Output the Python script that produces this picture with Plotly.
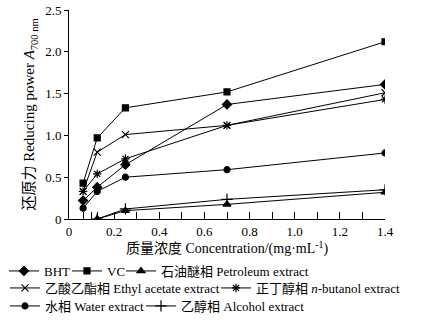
import plotly.graph_objects as go

conc = [0.0625, 0.125, 0.25, 0.7, 1.4]
bht = [0.22, 0.38, 0.65, 1.37, 1.61]
vc = [0.43, 0.97, 1.33, 1.52, 2.12]
petroleum = [None, 0.0, 0.10, 0.175, 0.32]
ethyl = [0.33, 0.80, 1.01, 1.12, 1.51]
butanol = [0.33, 0.54, 0.72, 1.12, 1.43]
water = [0.13, 0.33, 0.50, 0.59, 0.79]
alcohol = [None, 0.0, 0.12, 0.235, 0.35]

x_ticks = [0, 0.2, 0.4, 0.6, 0.8, 1.0, 1.2, 1.4]
x_ticktext = ["0", "0.2", "0.4", "0.6", "0.8", "1.0", "1.2", "1.4"]
y_ticks = [0, 0.5, 1.0, 1.5, 2.0, 2.5]
y_ticktext = ["0", "0.5", "1.0", "1.5", "2.0", "2.5"]

FONT = "'Liberation Serif', 'Times New Roman', 'Noto Sans CJK SC', serif"

# (name, values, symbol, size, legend id, legend left px, legend row centre px)
series = [
    ("BHT", bht, "diamond", 7, "legend", 4, 271),
    ("VC", vc, "square", 6, "legend2", 67, 271),
    ("石油醚相 Petroleum extract", petroleum, "triangle-up", 7, "legend3", 121, 271),
    ("乙酸乙酯相 Ethyl acetate extract", ethyl, "x-thin-open", 7, "legend4", 5, 288),
    ("正丁醇相 <i>n</i>-butanol extract", butanol, "asterisk-open", 7, "legend5", 216, 288),
    ("水相 Water extract", water, "circle", 6, "legend6", 5, 306),
    ("乙醇相 Alcohol extract", alcohol, "cross-thin-open", 8, "legend7", 141, 306),
]

L, R, T, B, W, H = 69, 47, 10, 113, 432, 332
PW, PH = W - L - R, H - T - B

fig = go.Figure()
legends = {}
for name, ys, sym, sz, lg, lx, ly in series:
    fig.add_trace(go.Scatter(
        x=conc, y=ys, name=name, mode="lines+markers",
        line=dict(color="black", width=1),
        marker=dict(symbol=sym, size=sz, color="black",
                    line=dict(color="black", width=1.2)),
        legend=lg, connectgaps=False, showlegend=True,
    ))
    legends[lg] = dict(orientation="h", xref="paper", yref="paper",
                       x=(lx - L) / PW, y=-(ly - (T + PH)) / PH,
                       xanchor="left", yanchor="middle",
                       bgcolor="rgba(0,0,0,0)", borderwidth=0,
                       font=dict(family=FONT, size=13, color="black"),
                       itemwidth=30, tracegroupgap=0)

fig.update_layout(
    width=W, height=H, showlegend=True,
    margin=dict(l=L, r=R, t=T, b=B, autoexpand=False),
    plot_bgcolor="white", paper_bgcolor="white",
    font=dict(family=FONT, size=13, color="black"),
    xaxis=dict(range=[0, 1.4], tickvals=x_ticks, ticktext=x_ticktext,
               showgrid=False, zeroline=False, showline=True,
               linecolor="black", linewidth=1, ticks="inside", ticklen=7,
               tickcolor="black",
               minor=dict(tickvals=[0.0625, 0.1, 0.125, 0.3, 0.5, 0.7, 0.9, 1.1, 1.3],
                          ticks="inside", ticklen=7, tickcolor="black"),
               tickfont=dict(family=FONT, size=13),
               title=dict(text="质量浓度 Concentration/(mg·mL<sup>-1</sup>)",
                          font=dict(family=FONT, size=14), standoff=4)),
    yaxis=dict(range=[0, 2.5], tickvals=y_ticks, ticktext=y_ticktext,
               showgrid=False, zeroline=False, showline=True,
               linecolor="black", linewidth=1, ticks="outside", ticklen=4,
               tickcolor="black",
               tickfont=dict(family=FONT, size=13),
               title=dict(text="还原力 Reducing power <i>A</i><sub>700 nm</sub>",
                          font=dict(family=FONT, size=15), standoff=6)),
)
fig.update_layout(**legends)

fig.write_html("out.html", config={"displayModeBar": False},
               post_script="document.body.style.margin='0';")
